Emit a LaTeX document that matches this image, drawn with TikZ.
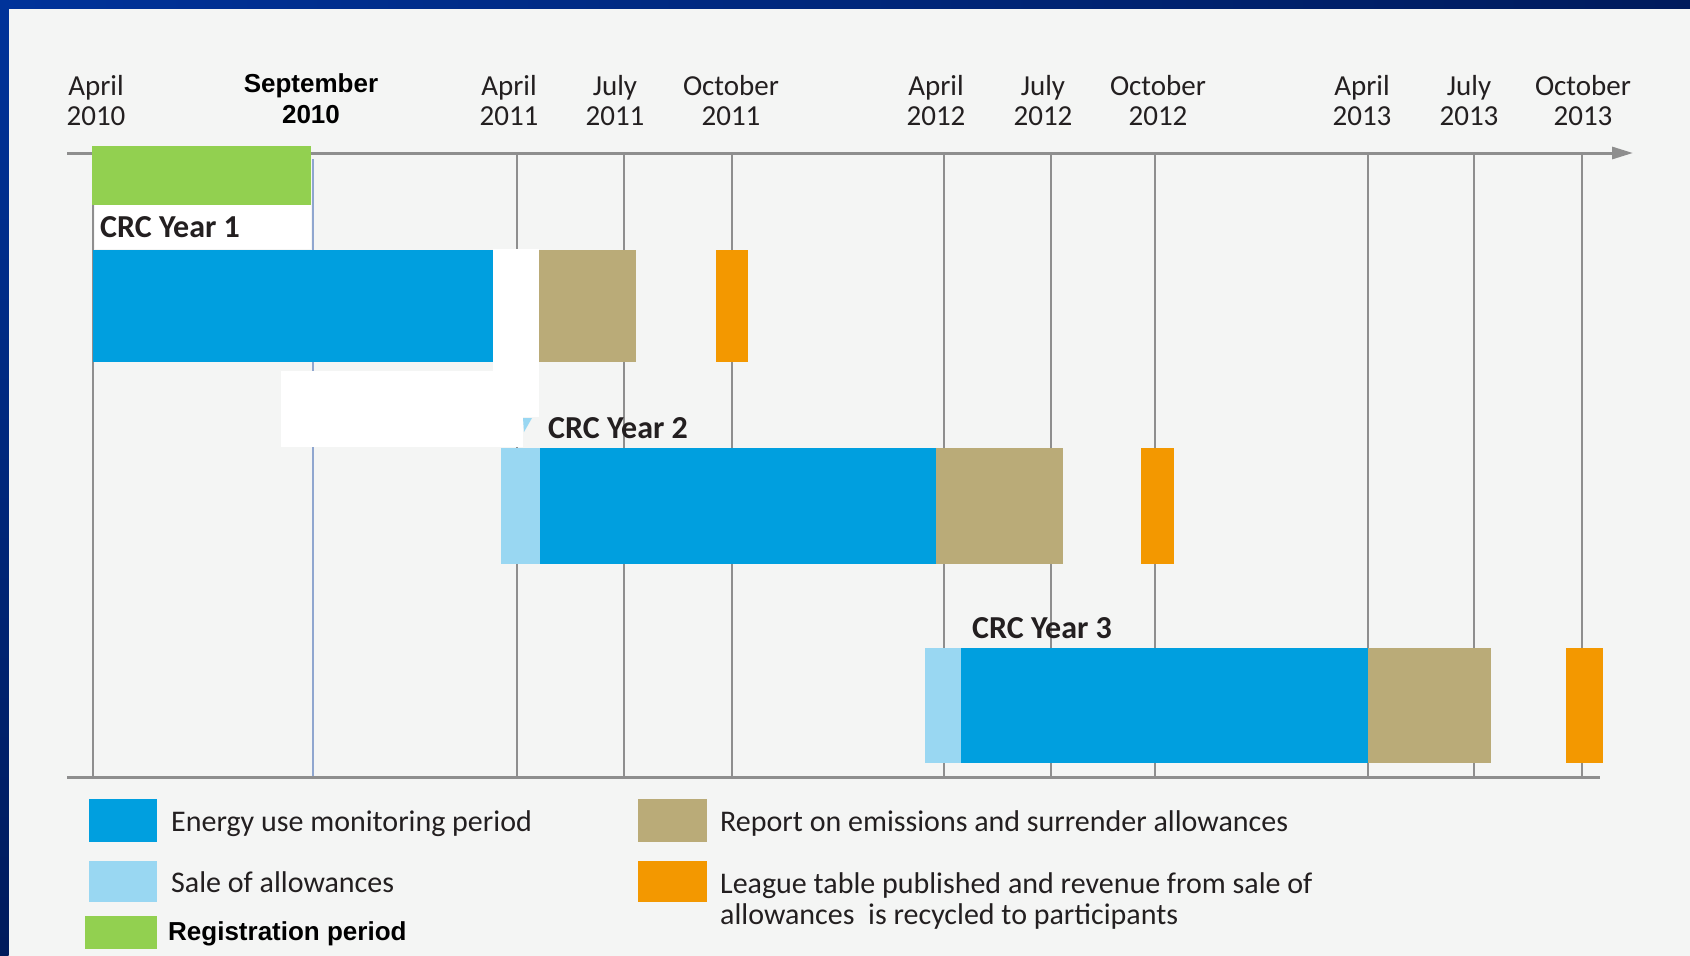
\documentclass[tikz,border=0pt]{standalone}
\usepackage{fontspec}
\setmainfont{Carlito}
\newfontfamily\arialfont{Liberation Sans}
\usetikzlibrary{arrows.meta}
\definecolor{bg}{HTML}{F4F5F4}
\definecolor{monblue}{HTML}{009FDF}
\definecolor{saleblue}{HTML}{99D7F2}
\definecolor{crctan}{HTML}{BAAB78}
\definecolor{crcorange}{HTML}{F39800}
\definecolor{reggreen}{HTML}{92D050}
\definecolor{gridgray}{HTML}{8E8E8E}
\definecolor{septblue}{HTML}{8FA6CF}
\definecolor{txt}{HTML}{231F20}
\definecolor{frameA}{HTML}{00339A}
\definecolor{frameB}{HTML}{001B5C}
\tikzset{
  datelbl/.style={font=\fontsize{29}{30}\selectfont, text=txt, align=center, inner sep=0, anchor=base},
  boldlbl/.style={font=\arialfont\bfseries\fontsize{26}{31}\selectfont, text=black, align=center, inner sep=0, anchor=base},
  crclbl/.style={font=\bfseries\fontsize{32}{34}\selectfont, text=txt, inner sep=0, anchor=base west},
  leglbl/.style={font=\fontsize{30}{31}\selectfont, text=txt, align=left, inner sep=0, anchor=base west},
  gridln/.style={draw=gridgray, line width=2pt},
  axisln/.style={draw=gridgray, line width=3pt},
}
\begin{document}
\begin{tikzpicture}[x=1pt,y=-1pt]
\useasboundingbox (0,0) rectangle (1690,956);
\fill[bg] (0,0) rectangle (1690,956);
% frame (top and left)
\shade[left color=frameA, right color=frameB] (0,0) rectangle (1690,8);
\shade[top color=frameA, bottom color=frameB] (0,0) rectangle (8.5,956);

% month coordinates on top and bottom axes
\foreach \n/\x in {a10/93, a11/517, j11/624, o11/732, a12/944, j12/1051, o12/1155, a13/1368, j13/1474, o13/1582}{
  \coordinate (t\n) at (\x,153);
  \coordinate (b\n) at (\x,777);
  \draw[gridln] (t\n) -- (b\n);
}
\coordinate (tsep) at (313,159);
\coordinate (bsep) at (313,779);
\draw[draw=septblue, line width=1.5pt] (tsep) -- (bsep);

% axes
\coordinate (axL) at (67,153);
\coordinate (axR) at (1633,153);
\coordinate (bxL) at (67,777);
\coordinate (bxR) at (1600,777);
\draw[axisln, -{Triangle[length=21pt,width=12pt]}] (axL) -- (axR);
\draw[axisln] (bxL) -- (bxR);

% registration period + CRC Year 1 label area
\fill[reggreen] (92,146) rectangle (311,205);
\fill[white] (95,205) rectangle (311,249);

% CRC Year 1
\fill[monblue] (93,250) rectangle (493,362);
\fill[crctan] (539,250) rectangle (636,362);
\fill[crcorange] (716,250) rectangle (748,362);
% white patches
\fill[white] (493,249) rectangle (539,417);
\fill[white] (281,371) rectangle (539,417);
\fill[white] (281,417) rectangle (523,447);
\fill[saleblue] (523,418) -- (532,418) -- (524,432) -- cycle;

% CRC Year 2
\fill[saleblue] (501,448) rectangle (540,564);
\fill[monblue] (540,448) rectangle (936,564);
\fill[crctan] (936,448) rectangle (1063,564);
\fill[crcorange] (1141,448) rectangle (1174,564);

% CRC Year 3
\fill[saleblue] (925,648) rectangle (961,763);
\fill[monblue] (961,648) rectangle (1368,763);
\fill[crctan] (1368,648) rectangle (1491,763);
\fill[crcorange] (1566,648) rectangle (1603,763);

% labels
\node[crclbl] (crc1) at (100,237) {CRC Year 1};
\node[crclbl] (crc2) at (548,438) {CRC Year 2};
\node[crclbl] (crc3) at (972,638) {CRC Year 3};

\node[datelbl] (la10) at (96,125) {April\\2010};
\node[boldlbl] (lsep) at (311,123) {September\\2010};
\node[datelbl] (la11) at (509,125) {April\\2011};
\node[datelbl] (lj11) at (615,125) {July\\2011};
\node[datelbl] (lo11) at (731,125) {October\\2011};
\node[datelbl] (la12) at (936,125) {April\\2012};
\node[datelbl] (lj12) at (1043,125) {July\\2012};
\node[datelbl] (lo12) at (1158,125) {October\\2012};
\node[datelbl] (la13) at (1362,125) {April\\2013};
\node[datelbl] (lj13) at (1469,125) {July\\2013};
\node[datelbl] (lo13) at (1583,125) {October\\2013};

% legend
\fill[monblue] (89,799) rectangle (157,842);
\fill[saleblue] (89,861) rectangle (157,902);
\fill[reggreen] (85,916) rectangle (157,949);
\fill[crctan] (638,799) rectangle (707,842);
\fill[crcorange] (638,861) rectangle (707,902);
\node[leglbl] (lg1) at (171,831) {Energy use monitoring period};
\node[leglbl] (lg2) at (171,892) {Sale of allowances};
\node[font=\arialfont\bfseries\fontsize{26}{31}\selectfont, text=black, inner sep=0, anchor=base west] (lg3) at (168,940) {Registration period};
\node[leglbl] (lg4) at (720,831) {Report on emissions and surrender allowances};
\node[leglbl] (lg5) at (720,924) {League table published and revenue from sale of\\allowances~ is recycled to participants};
\end{tikzpicture}
\end{document}
